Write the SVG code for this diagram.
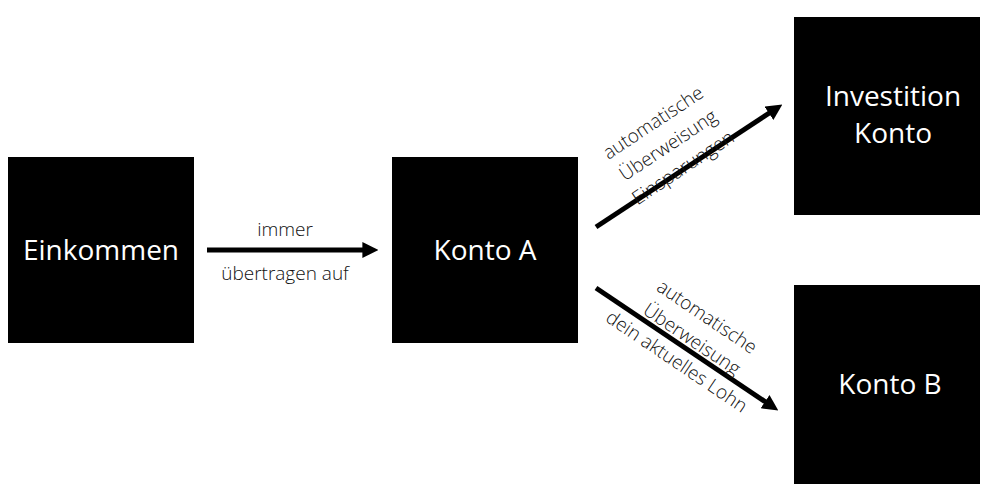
<svg xmlns="http://www.w3.org/2000/svg" width="1000" height="500" viewBox="0 0 1000 500">
<style>
.box{fill:#000}
.bt{fill:#fff;font-family:"Open Sans",sans-serif;font-size:28px;text-anchor:middle}
.lt{fill:#111;font-family:"Open Sans",sans-serif;font-weight:300;font-size:19px;text-anchor:middle}
.c{stroke:#000;stroke-width:5;fill:none;marker-end:url(#ah)}
</style>
<defs><marker id="ah" viewBox="0 0 10 10" refX="6" refY="5" markerWidth="3.2" markerHeight="3.2" orient="auto"><path d="M0,0 L10,5 L0,10 z" fill="#000"/></marker></defs>
<rect width="1000" height="500" fill="#fff"/>
<g id="einkommen"><rect class="box" x="8" y="157" width="186" height="186"/><text class="bt" x="101" y="260">Einkommen</text></g>
<g id="kontoA"><rect class="box" x="392" y="157" width="186" height="186"/><text class="bt" x="485" y="260">Konto A</text></g>
<g id="investition"><rect class="box" x="794" y="17" width="186" height="198"/><text class="bt" x="893" y="106">Investition</text><text class="bt" x="893" y="143">Konto</text></g>
<g id="kontoB"><rect class="box" x="794" y="285" width="186" height="199"/><text class="bt" x="890" y="394">Konto B</text></g>
<g id="connectors">
<path class="c" d="M207,250 L372,250"/>
<path class="c" d="M596,227 L777,108"/>
<path class="c" d="M596,288 L773,407"/>
<text class="lt" x="285" y="236">immer</text>
<text class="lt" x="285" y="280">übertragen auf</text>
<g transform="translate(670,148) rotate(-33.5)">
<text class="lt" x="0" y="-24">automatische</text>
<text class="lt" x="0" y="3">Überweisung</text>
<text class="lt" x="0" y="30">Einsparungen</text>
</g>
<g transform="translate(690,342) rotate(34)">
<text class="lt" x="0" y="-24">automatische</text>
<text class="lt" x="0" y="3">Überweisung</text>
<text class="lt" x="0" y="30">dein aktuelles Lohn</text>
</g>
</g>
</svg>
